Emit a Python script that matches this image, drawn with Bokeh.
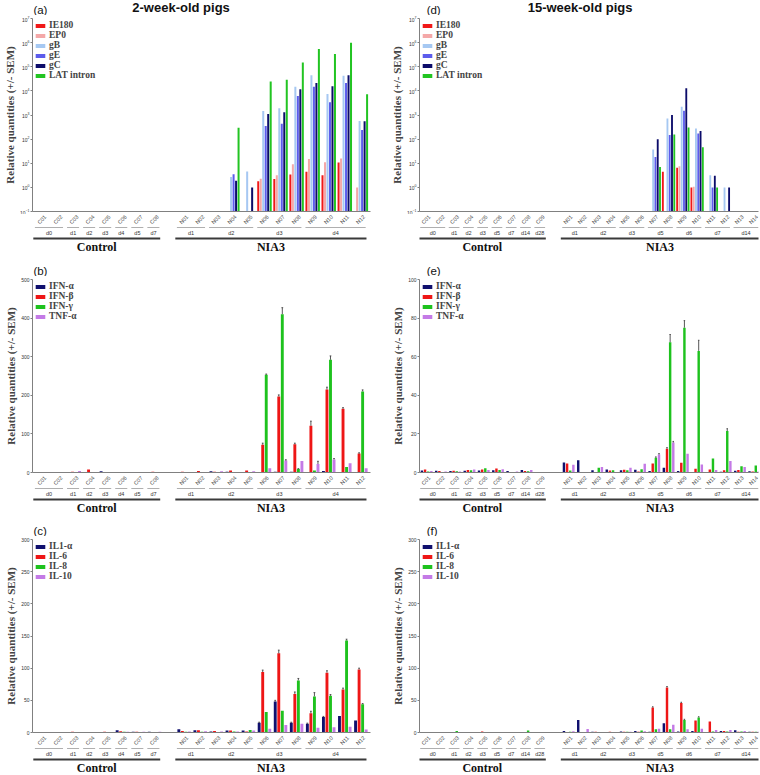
import math
from bokeh.plotting import figure
from bokeh.layouts import column, row
from bokeh.models import ColumnDataSource, Range1d, FixedTicker, LogTickFormatter
from bokeh.embed import file_html
from bokeh.resources import INLINE
from bokeh.core.properties import value

# ---------------- data ----------------
young_control_ids = ["C01", "C02", "C03", "C04", "C05", "C06", "C07", "C08"]
young_control_days = ["d0", "d0", "d1", "d2", "d3", "d4", "d5", "d7"]
young_nia3_ids = ["N01", "N02", "N03", "N04", "N05", "N06", "N07", "N08", "N09", "N10", "N11", "N12"]
young_nia3_days = ["d1", "d1", "d2", "d2", "d2", "d3", "d3", "d3", "d4", "d4", "d4", "d4"]

old_control_ids = ["C01", "C02", "C03", "C04", "C05", "C06", "C07", "C08", "C09"]
old_control_days = ["d0", "d0", "d1", "d2", "d3", "d5", "d7", "d14", "d28"]
old_nia3_ids = ["N01", "N02", "N03", "N04", "N05", "N06", "N07", "N08", "N09", "N10", "N11", "N12", "N13", "N14"]
old_nia3_days = ["d1", "d1", "d2", "d2", "d3", "d3", "d5", "d5", "d6", "d6", "d7", "d7", "d14", "d14"]

virus_genes = ["IE180", "EP0", "gB", "gE", "gC", "LAT intron"]
ifn_genes = ["IFN-α", "IFN-β", "IFN-γ", "TNF-α"]
il_genes = ["IL1-α", "IL-6", "IL-8", "IL-10"]

# (a) 2-week-old pigs, viral transcripts (controls C01-C08 then N01-N12; 0 = not detected)
a_ie180 = [0, 0, 0, 0, 0, 0, 0, 0, 0, 0, 0, 0, 0, 1.8, 2.2, 3.4, 4.4, 3.2, 10.7, 0]
a_ep0 = [0, 0, 0, 0, 0, 0, 0, 0, 0, 0, 0, 0, 0, 2.3, 3.2, 9.0, 15, 11, 15.6, 1.0]
a_gb = [0, 0, 0, 0, 0, 0, 0, 0, 0, 0, 0, 2.7, 4.5, 1470, 1900, 14700, 44000, 7500, 42000, 570]
a_ge = [0, 0, 0, 0, 0, 0, 0, 0, 0, 0, 0, 3.5, 0, 350, 430, 6200, 15000, 3400, 21000, 240]
a_gc = [0, 0, 0, 0, 0, 0, 0, 0, 0, 0, 0, 1.9, 1.0, 1100, 1300, 11700, 21000, 15500, 44000, 550]
a_lat = [0, 0, 0, 0, 0, 0, 0, 0, 0, 0, 0, 295, 0, 24500, 29000, 150000, 550000, 340000, 980000, 7300]

# (d) 15-week-old pigs, viral transcripts (C01-C09 then N01-N14)
d_ie180 = [0] * 9 + [0, 0, 0, 0, 0, 0, 0, 4.4, 6.5, 1.0, 0, 0, 0, 0]
d_ep0 = [0] * 9 + [0, 0, 0, 0, 0, 0, 0, 0, 7.5, 1.05, 0, 0, 0, 0]
d_gb = [0] * 9 + [0, 0, 0, 0, 0, 0, 37, 720, 2200, 275, 3.2, 1.0, 0, 0]
d_ge = [0] * 9 + [0, 0, 0, 0, 0, 0, 18, 150, 1500, 170, 1.0, 0, 0, 0]
d_gc = [0] * 9 + [0, 0, 0, 0, 0, 0, 98, 1000, 13000, 215, 3.0, 1.0, 0, 0]
d_lat = [0] * 9 + [0, 0, 0, 0, 0, 0, 7, 155, 300, 46, 1.0, 0, 0, 0]

# (b) 2-week-old pigs, interferons / TNF
b_ifna = [0.5, 0.8, 0.5, 0.8, 3.0, 1.0, 0.8, 0.5, 1.0, 0.8, 3.0, 2.0, 1.5, 1.0, 2.0, 2.0, 1.0, 4.0, 1.0, 1.0]
b_ifnb = [0.5, 1.0, 2.0, 8.0, 1.0, 1.5, 0.8, 2.0, 2.0, 4.0, 2.0, 5.0, 5.0, 72, 197, 73, 121, 215, 165, 49]
b_ifng = [0.3, 0.5, 0.5, 1.0, 0.5, 0.5, 0.5, 0.5, 0.5, 0.5, 1.0, 1.0, 1.0, 253, 410, 9, 5, 292, 14, 210]
b_tnfa = [0.5, 0.5, 4.0, 1.0, 1.0, 1.0, 1.0, 0.5, 1.0, 1.0, 3.0, 1.5, 3.0, 11, 31, 30, 22, 34, 24, 11]
b_ifnb_sem = [0] * 13 + [4, 4, 3, 12, 6, 3, 2]
b_ifng_sem = [0] * 13 + [2, 17, 1, 0, 10, 0, 4]
b_tnfa_sem = [0] * 13 + [0, 2, 0, 7, 2, 0, 0]

# (e) 15-week-old pigs, interferons / TNF
e_ifna = [1.0, 0.9, 0.8, 0.9, 1.0, 1.2, 0.8, 1.3, 0, 5.2, 6.3, 1.2, 1.5, 1.2, 1.4, 0.8, 2.4, 0.8, 0.3, 0.3, 0.4, 0.9, 0.6]
e_ifnb = [1.5, 0.8, 0.9, 1.3, 1.6, 2.1, 0.2, 0.8, 0, 4.6, 0, 0.3, 1.0, 1.4, 0.5, 4.6, 12.3, 5.0, 2.0, 1.5, 1.2, 1.3, 0.5]
e_ifng = [0.5, 0.3, 0.6, 1.2, 2.2, 1.3, 0, 0.7, 0, 1.1, 0, 2.4, 1.2, 1.2, 1.7, 7.6, 67.5, 75.0, 63.0, 7.3, 21.5, 3.2, 3.6]
e_tnfa = [0.8, 0.5, 0.5, 1.6, 1.3, 1.7, 0.5, 1.3, 0, 4.0, 0, 2.8, 0.3, 2.4, 4.5, 9.3, 15.5, 9.7, 4.2, 1.3, 6.0, 2.9, 0.8]
e_ifnb_sem = [0] * 16 + [0.6, 0, 0, 0, 0, 0, 0]
e_ifng_sem = [0] * 15 + [0.5, 4.0, 3.7, 5.5, 0, 1.2, 0, 0]
e_tnfa_sem = [0] * 15 + [0.5, 0.6, 0, 0, 0, 0, 0, 0]

# (c) 2-week-old pigs, interleukins
c_il1a = [0.5, 0.8, 0.5, 0.5, 0.5, 3.6, 1.0, 1.0, 5.0, 3.5, 1.5, 3.0, 3.0, 15, 48, 15, 13.5, 24, 25.5, 18.5]
c_il6 = [0.5, 0.8, 1.2, 0.8, 1.0, 2.0, 1.0, 0.8, 2.5, 3.5, 2.5, 3.0, 1.5, 94, 123, 60, 30, 93, 67, 98]
c_il8 = [0.5, 0.5, 0.5, 0.5, 0.5, 1.0, 0.5, 0.5, 1.0, 1.0, 0.8, 1.5, 4.0, 32, 34, 81, 56, 57, 143, 44]
c_il10 = [0.5, 0.5, 0.5, 0.5, 0.5, 1.0, 1.0, 1.0, 1.5, 2.0, 1.5, 1.5, 3.0, 6, 11.5, 13.5, 7.5, 8, 9, 4.5]
c_il1a_sem = [0] * 13 + [1, 2, 1, 1, 1, 0, 0]
c_il6_sem = [0] * 13 + [3, 5, 3, 3, 3, 2, 2]
c_il8_sem = [0] * 13 + [0, 0, 3, 6, 2, 2, 1]

# (f) 15-week-old pigs, interleukins
f_il1a = [0.8, 0.8, 0.5, 0.8, 0.8, 0.8, 0.8, 0.8, 0, 2.5, 19.5, 1.0, 0.8, 1.5, 2.5, 1.0, 14.5, 1.5, 2.5, 0.5, 2.5, 3.5, 1.0]
f_il6 = [0.8, 0.8, 0.5, 0.8, 1.5, 0.8, 0.8, 0.8, 0, 0.8, 0, 1.0, 1.0, 1.0, 1.0, 39, 70, 46, 18.5, 17, 2.5, 1.0, 1.0]
f_il8 = [0.5, 0.5, 2.5, 0.5, 0.5, 0.5, 0.5, 3.0, 0, 1.0, 0, 0.5, 0.5, 1.0, 3.0, 5.0, 5.0, 19.5, 23.5, 1.5, 1.5, 1.5, 1.0]
f_il10 = [0.5, 0.8, 0.8, 0.5, 0.8, 0.8, 0.8, 0.8, 0, 2.0, 5.5, 0.5, 0.5, 1.0, 2.0, 6.0, 12.0, 5.0, 6.0, 4.0, 4.0, 2.5, 2.0]
f_il6_sem = [0] * 15 + [1, 1.5, 1, 0, 0, 0, 0, 0]
f_il8_sem = [0] * 17 + [1, 1, 0, 0, 0, 0]

log_ticks = [0.1, 1, 10, 100, 1000, 10000, 100000, 1000000, 10000000]
ifn_young_ticks = [0, 100, 200, 300, 400, 500]
ifn_old_ticks = [0, 20, 40, 60, 80, 100]
il_ticks = [0, 50, 100, 150, 200, 250, 300]

virus_colors = ["#f01818", "#f4a8a8", "#a6c8f2", "#5c5cec", "#0c0c6a", "#22c422"]
cyto_colors = ["#10106e", "#ee1616", "#1ec21e", "#c47ae6"]

# ---------------- layout constants ----------------
FRAME_H = 193
STRIP_H = 39
L_W, L_LEFT, L_RIGHT = 380, 28, 10
R_W, R_LEFT, R_RIGHT = 380, 39, 2
SANS = "Liberation Sans"
SERIF = "Liberation Serif"


def positions(n_ctrl, n_nia, gap):
    return [float(i) for i in range(n_ctrl)] + [n_ctrl + gap + j for j in range(n_nia)]


def build_header(width, height, letter, letter_x, title=None, title_x=None):
    h = figure(width=width, height=height, x_range=Range1d(0, width), y_range=Range1d(0, height),
               x_axis_type=None, y_axis_type=None, toolbar_location=None, output_backend="svg",
               min_border_left=0, min_border_right=0, min_border_top=0, min_border_bottom=0)
    h.outline_line_color = None
    h.grid.visible = False
    h.text(x=[letter_x], y=[6], text=[letter], text_align="left", text_baseline="middle",
           text_font=value(SANS), text_font_size="11.5px", text_color="#111111")
    if title:
        h.text(x=[title_x], y=[height / 2 + 1], text=[title], text_align="center", text_baseline="middle",
               text_font=value(SANS), text_font_style="bold", text_font_size="13px", text_color="#111111")
    return h


def build_panel(width, left, right, xr, log, ymax, pos, series, names, colors, sems,
                step, bw, yticks):
    height = 3 + FRAME_H + 3
    yr = Range1d(0.1, ymax) if log else Range1d(0, ymax)
    p = figure(width=width, height=height, x_range=xr, y_range=yr,
               y_axis_type="log" if log else "linear",
               toolbar_location=None, output_backend="svg",
               min_border_left=left, min_border_right=right,
               min_border_top=3, min_border_bottom=3)
    p.outline_line_color = None
    p.grid.visible = False
    n = len(series)
    base = 0.1 if log else 0
    for k in range(n):
        vals = series[k]
        off = (k - (n - 1) / 2) * step
        xs = [x + off for x, v in zip(pos, vals) if v > 0]
        tops = [v for v in vals if v > 0]
        src = ColumnDataSource(dict(x=xs, top=tops))
        p.vbar(x="x", top="top", bottom=base, width=bw, source=src,
               fill_color=colors[k], line_color=None, legend_label=names[k])
        sem = sems[k]
        if sem:
            ex = [x + off for x, v, e in zip(pos, vals, sem) if e > 0]
            y0 = [v for v, e in zip(vals, sem) if e > 0]
            y1 = [v + e for v, e in zip(vals, sem) if e > 0]
            p.segment(x0=ex, y0=y0, x1=ex, y1=y1, line_color="#444444", line_width=0.9)
            p.segment(x0=[x - bw * 0.3 for x in ex], y0=y1, x1=[x + bw * 0.3 for x in ex], y1=y1,
                      line_color="#444444", line_width=0.9)

    p.xaxis.ticker = FixedTicker(ticks=[])
    p.xaxis.major_label_text_font_size = "0px"
    p.xaxis.major_tick_line_color = None
    p.xaxis.minor_tick_line_color = None
    p.xaxis.axis_line_color = "#808080"
    p.yaxis.ticker = FixedTicker(ticks=yticks)
    if log:
        p.yaxis.formatter = LogTickFormatter()
    p.yaxis.axis_label = "Relative quantities (+/- SEM)"
    p.yaxis.axis_label_text_font = SERIF
    p.yaxis.axis_label_text_font_style = "bold"
    p.yaxis.axis_label_text_font_size = "11px"
    p.yaxis.axis_label_standoff = 1
    p.yaxis.major_label_text_font = SANS
    p.yaxis.major_label_text_font_size = "5px"
    p.yaxis.major_label_text_color = "#333333"
    p.yaxis.major_label_standoff = 1
    p.yaxis.major_tick_out = 2
    p.yaxis.major_tick_in = 0
    p.yaxis.minor_tick_line_color = None
    p.yaxis.axis_line_color = "#808080"
    p.yaxis.major_tick_line_color = "#808080"

    lg = p.legend[0]
    lg.location = "top_left"
    lg.margin = 0
    lg.padding = 2
    lg.spacing = 0
    lg.label_height = 8
    lg.glyph_height = 5
    lg.glyph_width = 12
    lg.label_standoff = 3
    lg.label_text_font = SERIF
    lg.label_text_font_style = "bold"
    lg.label_text_font_size = "9.5px"
    lg.label_text_line_height = 1.0
    lg.background_fill_alpha = 0
    lg.border_line_alpha = 0
    return p


def runs(days, pos):
    out = []
    start = 0
    for i in range(1, len(days) + 1):
        if i == len(days) or days[i] != days[start]:
            out.append((days[start], pos[start], pos[i - 1]))
            start = i
    return out


def build_strip(width, left, right, xr, pos, ids, day_groups):
    s = figure(width=width, height=STRIP_H, x_range=xr, y_range=Range1d(0, STRIP_H),
               x_axis_type=None, y_axis_type=None, toolbar_location=None, output_backend="svg",
               min_border_left=left, min_border_right=right, min_border_top=0, min_border_bottom=0)
    s.outline_line_color = None
    s.grid.visible = False
    s.text(x=[x + 0.2 for x in pos], y=STRIP_H - 1.5, text=ids, angle=math.pi / 4,
           text_align="right", text_baseline="middle", text_font=value(SANS),
           text_font_size="5.5px", text_color="#444444")
    dx0, dx1, dlab, dxc = [], [], [], []
    gx0, gx1, glab, gxc = [], [], [], []
    for gname, gdays, gpos in day_groups:
        for d, a, b in runs(gdays, gpos):
            dx0.append(a - 0.45)
            dx1.append(b + 0.3)
            dlab.append(d)
            dxc.append((a + b) / 2 - 0.07)
        gx0.append(gpos[0] - 0.55)
        gx1.append(gpos[-1] + 0.35)
        glab.append(gname)
        gxc.append((gpos[0] + gpos[-1]) / 2 - 0.1)
    s.segment(x0=dx0, x1=dx1, y0=STRIP_H - 13, y1=STRIP_H - 13, line_color="#9a9a9a", line_width=0.8)
    s.text(x=dxc, y=STRIP_H - 18, text=dlab, text_align="center", text_baseline="middle",
           text_font=value(SANS), text_font_size="5.5px", text_color="#333333")
    s.segment(x0=gx0, x1=gx1, y0=STRIP_H - 24, y1=STRIP_H - 24, line_color="#3a3a3a", line_width=2)
    s.text(x=gxc, y=STRIP_H - 32, text=glab, text_align="center", text_baseline="middle",
           text_font=value(SERIF), text_font_style="bold", text_font_size="12px", text_color="#111111")
    return s


# ---------------- left column: 2-week-old pigs ----------------
pos_y = positions(len(young_control_ids), len(young_nia3_ids), 0.84)
ids_y = young_control_ids + young_nia3_ids
groups_y = [("Control", young_control_days, pos_y[:len(young_control_ids)]),
            ("NIA3", young_nia3_days, pos_y[len(young_control_ids):])]
xr_y = Range1d(-0.6, pos_y[-1] + 0.6)

pa = build_panel(L_W, L_LEFT, L_RIGHT, xr_y, True, 1e7, pos_y,
                 [a_ie180, a_ep0, a_gb, a_ge, a_gc, a_lat], virus_genes, virus_colors,
                 [None] * 6, 0.155, 0.125, log_ticks)
pb = build_panel(L_W, L_LEFT, L_RIGHT, xr_y, False, 500, pos_y,
                 [b_ifna, b_ifnb, b_ifng, b_tnfa], ifn_genes, cyto_colors,
                 [None, b_ifnb_sem, b_ifng_sem, b_tnfa_sem], 0.22, 0.18, ifn_young_ticks)
pc = build_panel(L_W, L_LEFT, L_RIGHT, xr_y, False, 300, pos_y,
                 [c_il1a, c_il6, c_il8, c_il10], il_genes, cyto_colors,
                 [c_il1a_sem, c_il6_sem, c_il8_sem, None], 0.22, 0.18, il_ticks)
left_col = column(build_header(L_W, 15, "(a)", 1, "2-week-old pigs", 167), pa,
                  build_strip(L_W, L_LEFT, L_RIGHT, xr_y, pos_y, ids_y, groups_y),
                  build_header(L_W, 23, "(b)", 1), pb,
                  build_strip(L_W, L_LEFT, L_RIGHT, xr_y, pos_y, ids_y, groups_y),
                  build_header(L_W, 22, "(c)", 1), pc,
                  build_strip(L_W, L_LEFT, L_RIGHT, xr_y, pos_y, ids_y, groups_y),
                  spacing=0)

# ---------------- right column: 15-week-old pigs ----------------
pos_o = positions(len(old_control_ids), len(old_nia3_ids), 0.95)
ids_o = old_control_ids + old_nia3_ids
groups_o = [("Control", old_control_days, pos_o[:len(old_control_ids)]),
            ("NIA3", old_nia3_days, pos_o[len(old_control_ids):])]
xr_o = Range1d(-0.5, pos_o[-1] + 0.3)

pd_ = build_panel(R_W, R_LEFT, R_RIGHT, xr_o, True, 1e7, pos_o,
                  [d_ie180, d_ep0, d_gb, d_ge, d_gc, d_lat], virus_genes, virus_colors,
                  [None] * 6, 0.16, 0.13, log_ticks)
pe = build_panel(R_W, R_LEFT, R_RIGHT, xr_o, False, 100, pos_o,
                 [e_ifna, e_ifnb, e_ifng, e_tnfa], ifn_genes, cyto_colors,
                 [None, e_ifnb_sem, e_ifng_sem, e_tnfa_sem], 0.22, 0.17, ifn_old_ticks)
pf = build_panel(R_W, R_LEFT, R_RIGHT, xr_o, False, 300, pos_o,
                 [f_il1a, f_il6, f_il8, f_il10], il_genes, cyto_colors,
                 [None, f_il6_sem, f_il8_sem, None], 0.22, 0.17, il_ticks)
right_col = column(build_header(R_W, 15, "(d)", 8, "15-week-old pigs", 180), pd_,
                   build_strip(R_W, R_LEFT, R_RIGHT, xr_o, pos_o, ids_o, groups_o),
                   build_header(R_W, 23, "(e)", 8), pe,
                   build_strip(R_W, R_LEFT, R_RIGHT, xr_o, pos_o, ids_o, groups_o),
                   build_header(R_W, 22, "(f)", 8), pf,
                   build_strip(R_W, R_LEFT, R_RIGHT, xr_o, pos_o, ids_o, groups_o),
                   spacing=0)

layout = row(left_col, right_col, spacing=0)
open("out.html", "w").write(file_html(layout, INLINE))
